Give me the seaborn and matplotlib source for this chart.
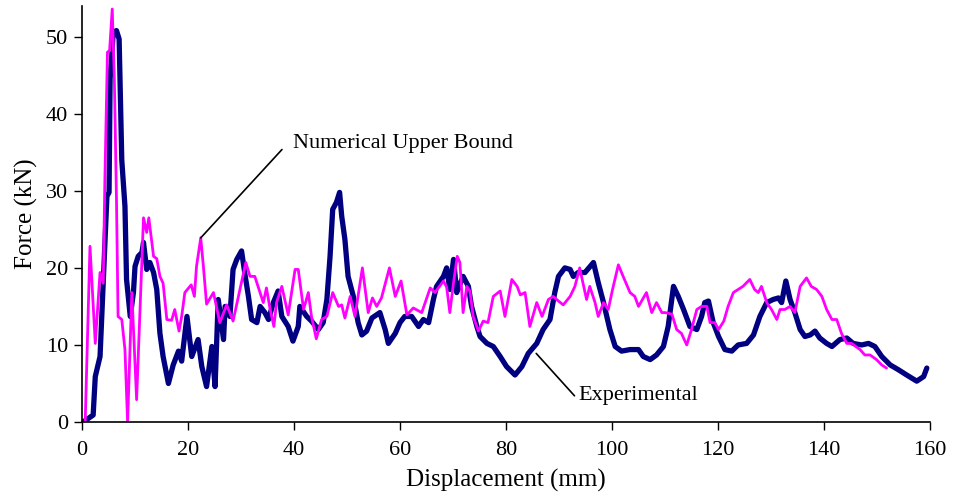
import matplotlib
matplotlib.use("Agg")
import matplotlib.pyplot as plt
import seaborn as sns
import pandas as pd

# Experimental series (displacement mm, force kN)
exp_x = [0.2, 2.1, 2.5, 3.4, 4.0, 4.7, 5.1, 5.3, 5.9, 6.5, 7.0, 7.5, 8.1, 8.4, 9.1, 9.7, 10.0, 10.6,
         11.3, 11.6, 12.2, 12.8, 13.5, 14.1, 14.7, 15.3, 16.3, 17.2, 18.2, 18.8, 19.8, 20.7, 21.9, 22.6,
         23.5, 24.5, 25.1, 25.7, 26.7, 27.0, 27.9, 28.5, 29.2, 30.1, 30.8, 31.4, 32.0, 33.0, 33.6, 34.5,
         35.2, 36.1, 37.0, 37.7, 38.9, 39.8, 40.8, 41.1, 42.4, 43.3, 44.6, 45.5, 46.2, 46.8, 47.3, 48.0,
         48.6, 49.0, 49.6, 50.2, 51.2, 52.1, 52.8, 53.7, 54.7, 56.2, 57.2, 57.8, 59.1, 60.0, 60.9, 62.2,
         63.5, 64.4, 65.4, 66.3, 66.9, 68.2, 68.8, 69.4, 70.1, 70.7, 71.9, 72.9, 73.5, 74.5, 75.1, 76.4,
         77.6, 78.9, 80.1, 81.7, 83.0, 84.2, 85.8, 87.0, 88.3, 89.2, 89.9, 91.1, 92.1, 92.7, 93.6, 94.9,
         96.5, 97.4, 98.4, 99.6, 100.6, 101.8, 103.4, 105.0, 105.9, 107.2, 108.4, 109.7, 110.6, 111.6,
         112.5, 113.5, 114.7, 116.0, 116.9, 117.5, 118.2, 119.1, 120.1, 121.3, 122.6, 123.8, 125.4, 126.7,
         127.9, 129.2, 130.4, 131.4, 132.0, 132.8, 133.6, 134.5, 135.5, 136.4, 137.4, 138.3, 139.2, 140.5,
         141.5, 143.0, 144.3, 145.5, 147.1, 148.4, 149.6, 150.9, 152.5, 154.0, 155.6, 157.5, 158.8, 159.4]
exp_y = [0.0, 0.9, 5.9, 8.5, 18.0, 29.3, 29.8, 44.5, 50.6, 50.8, 49.7, 34.0, 28.0, 18.5, 13.7, 16.8, 20.2, 21.5,
         22.0, 23.3, 19.8, 20.7, 19.4, 17.2, 11.5, 8.5, 5.0, 7.4, 9.2, 7.9, 13.7, 8.5, 10.7, 7.2,
         4.6, 9.8, 4.6, 15.9, 10.7, 15.0, 13.7, 19.8, 21.1, 22.2, 18.9, 16.3, 13.3, 12.9, 15.0, 14.2,
         13.3, 15.5, 17.0, 13.7, 12.4, 10.5, 12.4, 15.0, 13.7, 13.1, 12.0, 12.9, 15.9, 21.5, 27.6, 28.5,
         29.8, 26.7, 23.7, 18.9, 16.3, 12.9, 11.3, 11.8, 13.5, 14.2, 12.0, 10.2, 11.5, 12.9, 13.7, 13.7,
         12.4, 13.3, 12.9, 15.9, 17.6, 18.9, 20.0, 17.2, 21.1, 16.8, 18.9, 17.6, 15.0, 12.4, 11.1, 10.2,
         9.8, 8.5, 7.2, 6.1, 7.2, 8.9, 10.2, 12.0, 13.3, 16.8, 18.9, 20.0, 19.8, 18.9, 19.4, 19.4,
         20.7, 18.1, 15.5, 12.0, 9.8, 9.2, 9.4, 9.4, 8.5, 8.1, 8.7, 9.8, 12.4, 17.6,
         16.3, 14.6, 12.4, 12.0, 13.7, 15.5, 15.7, 12.9, 11.1, 9.4, 9.2, 10.0, 10.2, 11.3,
         13.7, 15.5, 15.9, 16.1, 15.5, 18.3, 15.9, 14.2, 12.0, 11.1, 11.3, 11.8, 10.9, 10.2,
         9.8, 10.7, 10.9, 10.2, 10.0, 10.2, 9.8, 8.5, 7.4, 6.8, 6.1, 5.3, 5.9, 7.0]

# Numerical upper bound series
num_x = [0.6, 1.5, 2.5, 3.4, 4.0, 4.3, 4.8, 5.2, 5.7, 6.1, 6.5, 6.8, 7.5, 8.1, 8.6, 9.4, 10.3, 11.6,
         12.2, 12.6, 13.5, 14.1, 14.7, 15.3, 16.0, 16.9, 17.5, 18.3, 18.8, 19.4, 20.6, 21.2, 21.6, 22.4,
         22.9, 23.5, 24.8, 26.0, 27.3, 28.5, 29.8, 30.9, 31.7, 32.6, 33.6, 34.2, 34.8, 35.5, 36.2, 36.7,
         37.7, 38.9, 40.2, 40.8, 41.8, 42.7, 43.3, 44.2, 45.2, 46.2, 47.3, 48.4, 49.0, 49.6, 50.6, 51.5,
         52.9, 54.0, 54.8, 55.6, 56.5, 58.0, 59.1, 60.2, 61.3, 62.5, 64.1, 65.7, 66.6, 68.2, 68.8, 69.4,
         70.1, 70.8, 71.3, 71.9, 72.6, 73.2, 73.8, 74.8, 75.7, 76.6, 77.6, 78.9, 79.8, 81.1, 82.1, 82.7,
         83.6, 84.5, 85.8, 86.8, 88.0, 88.9, 89.9, 90.8, 92.1, 93.0, 93.9, 94.5, 95.2, 95.8, 96.8, 97.4,
         98.4, 99.3, 100.1, 101.2, 102.1, 103.4, 104.3, 105.0, 106.5, 107.5, 108.4, 109.4, 110.0, 111.3,
         112.2, 113.1, 114.1, 115.0, 116.0, 116.9, 117.9, 118.5, 119.4, 120.1, 121.1, 121.9, 122.9, 123.8,
         124.7, 126.0, 126.9, 127.6, 128.2, 129.2, 130.1, 131.1, 131.7, 132.6, 133.6, 134.5, 135.5, 136.7,
         137.6, 138.6, 139.6, 140.5, 141.5, 142.4, 143.3, 144.3, 145.2, 146.8, 147.7, 148.7, 149.9, 150.9,
         151.8]
num_y = [0.0, 22.8, 10.2, 19.4, 18.0, 31.0, 48.0, 48.2, 53.6, 44.5, 28.9, 13.7, 13.3, 9.4, 0.0, 16.8, 2.9, 26.5,
         24.6, 26.5, 21.5, 21.2, 18.9, 18.0, 13.3, 13.2, 14.6, 11.8, 13.7, 16.8, 17.8, 16.3, 20.2, 23.9,
         20.2, 15.3, 16.8, 12.9, 15.2, 13.1, 17.2, 20.7, 18.9, 18.9, 16.8, 15.5, 17.4, 14.6, 12.4, 15.5,
         17.6, 13.9, 19.8, 19.8, 14.6, 16.8, 13.7, 10.8, 13.3, 13.7, 16.8, 15.0, 15.2, 13.5, 16.3, 13.7,
         20.0, 14.2, 16.1, 15.0, 16.1, 20.0, 16.3, 18.3, 13.9, 14.8, 14.2, 17.4, 16.8, 18.3, 17.5, 14.2,
         18.1, 21.5, 20.7, 14.2, 17.6, 17.0, 13.7, 11.8, 13.1, 12.9, 16.3, 17.0, 13.7, 18.5, 17.6, 16.5,
         16.8, 12.4, 15.5, 13.7, 15.9, 16.3, 15.7, 15.2, 16.3, 17.6, 20.0, 18.1, 15.9, 17.6, 15.5, 13.7,
         15.5, 14.6, 17.2, 20.4, 18.9, 16.8, 16.3, 15.0, 16.8, 14.2, 15.5, 14.2, 14.2, 14.0,
         12.0, 11.5, 10.0, 12.0, 14.6, 15.0, 15.0, 12.9, 12.9, 12.0, 13.1, 15.0, 16.8, 17.2,
         17.6, 18.5, 17.2, 16.8, 17.6, 15.5, 14.6, 13.3, 14.6, 14.6, 15.0, 14.2, 17.6, 18.7,
         17.6, 17.2, 16.3, 14.6, 13.3, 13.3, 11.5, 10.2, 10.2, 9.4, 8.7, 8.7, 8.1, 7.4,
         7.0]

x_ticks = [0, 20, 40, 60, 80, 100, 120, 140, 160]
y_ticks = [0, 10, 20, 30, 40, 50]

sns.set_theme(style="ticks")
plt.rcParams['font.family'] = ['Liberation Serif', 'DejaVu Serif']

fig = plt.figure(figsize=(9.56, 4.93), dpi=100)
ax = fig.add_axes([0.0858, 0.144, 0.887, 0.844])

exp_df = pd.DataFrame({"x": exp_x, "y": exp_y})
num_df = pd.DataFrame({"x": num_x, "y": num_y})

sns.lineplot(data=exp_df, x="x", y="y", sort=False, estimator=None, ax=ax,
             color="#000080", linewidth=3.8, solid_joinstyle="round", solid_capstyle="round")
sns.lineplot(data=num_df, x="x", y="y", sort=False, estimator=None, ax=ax,
             color="#FF00FF", linewidth=2.0, solid_joinstyle="round")

ax.set_xlim(0, 160)
ax.set_ylim(0, 54)
ax.set_xticks(x_ticks)
ax.set_yticks(y_ticks)
ax.tick_params(axis="both", labelsize=16, length=6, width=1, color="black", labelcolor="black", direction="out")
ax.tick_params(axis="x", pad=8)
ax.tick_params(axis="y", pad=4)
for s in ["top", "right"]:
    ax.spines[s].set_visible(False)
for s in ["left", "bottom"]:
    ax.spines[s].set_color("black")
    ax.spines[s].set_linewidth(1.2)

ax.set_xlabel("Displacement (mm)", fontsize=18, color="black", labelpad=6)
ax.set_ylabel("Force (kN)", fontsize=18, color="black", labelpad=6)

ax.annotate("Numerical Upper Bound", xy=(22.4, 23.9), xytext=(39.8, 36.1),
            fontsize=16, color="black", va="center", ha="left",
            arrowprops=dict(arrowstyle="-", color="black", lw=1.2, shrinkA=0, shrinkB=0,
                            relpos=(-0.05, 0.2)))
ax.annotate("Experimental", xy=(85.7, 8.9), xytext=(93.6, 3.4),
            fontsize=16, color="black", va="center", ha="left",
            arrowprops=dict(arrowstyle="-", color="black", lw=1.2, shrinkA=0, shrinkB=0,
                            relpos=(-0.03, 0.5)))

fig.savefig("out.png", dpi=100)
